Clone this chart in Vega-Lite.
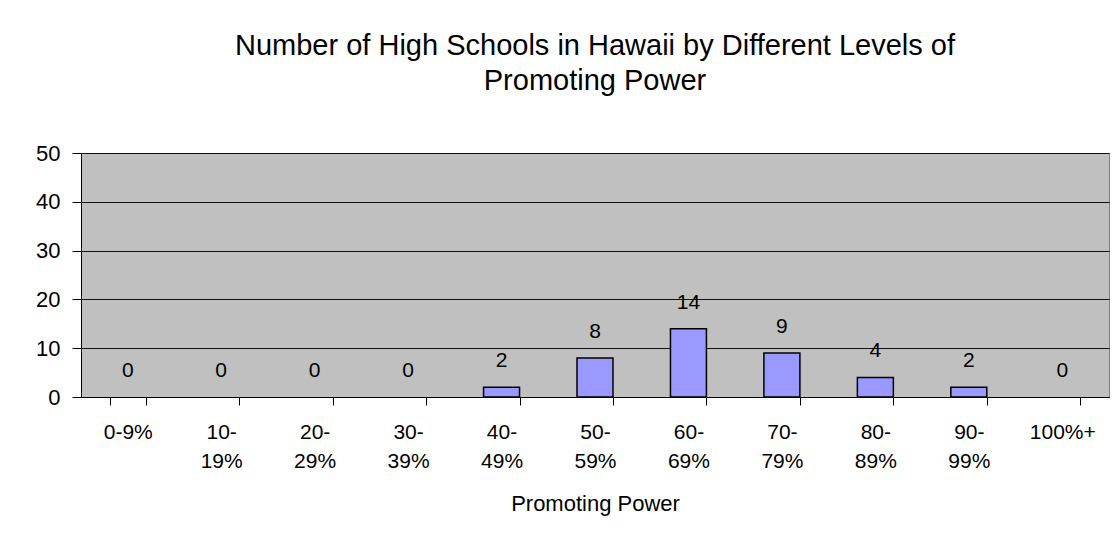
{
  "$schema": "https://vega.github.io/schema/vega-lite/v6.json",
  "autosize": {"type": "none"},
  "padding": {"left": 81, "top": 153, "right": 9, "bottom": 147},
  "width": 1028,
  "height": 244,
  "background": "white",
  "config": {
    "font": "Liberation Sans",
    "view": {"fill": "#C0C0C0", "stroke": "#808080", "strokeWidth": 1},
    "style": {"guide-label": {"lineBreak": "|"}}
  },
  "title": {
    "text": ["Number of High Schools in Hawaii by Different Levels of", "Promoting Power"],
    "fontSize": 29,
    "fontWeight": "normal",
    "color": "black",
    "anchor": "middle",
    "lineHeight": 35,
    "offset": 46
  },
  "data": {
    "values": [
      {"range": "0-9%", "count": 0},
      {"range": "10-19%", "count": 0},
      {"range": "20-29%", "count": 0},
      {"range": "30-39%", "count": 0},
      {"range": "40-49%", "count": 2},
      {"range": "50-59%", "count": 8},
      {"range": "60-69%", "count": 14},
      {"range": "70-79%", "count": 9},
      {"range": "80-89%", "count": 4},
      {"range": "90-99%", "count": 2},
      {"range": "100%+", "count": 0}
    ]
  },
  "encoding": {
    "x": {
      "field": "range",
      "type": "nominal",
      "sort": null,
      "scale": {
        "domain": ["0-9%", "10-19%", "20-29%", "30-39%", "40-49%", "50-59%", "60-69%", "70-79%", "80-89%", "90-99%", "100%+"],
        "paddingInner": 0.615,
        "paddingOuter": 0.3075
      },
      "axis": {
        "title": "Promoting Power",
        "titleFontSize": 22,
        "titleFontWeight": "normal",
        "titleColor": "black",
        "titlePadding": 22,
        "labelAngle": 0,
        "labelFontSize": 21,
        "labelColor": "black",
        "labelPadding": 16,
        "labelLineHeight": 29,
        "labelExpr": "isString(datum.value) ? (datum.value == '0-9%' ? datum.value : replace(datum.value, '-', '-|')) : ''",
        "tickBand": "extent",
        "tickSize": 8,
        "tickColor": "black",
        "domainColor": "black",
        "grid": false
      }
    },
    "y": {
      "field": "count",
      "type": "quantitative",
      "scale": {"domain": [0, 50]},
      "axis": {
        "title": null,
        "values": [0, 10, 20, 30, 40, 50],
        "labelFontSize": 22,
        "labelColor": "black",
        "labelPadding": 12,
        "tickSize": 9,
        "tickColor": "black",
        "domainColor": "black",
        "gridColor": "black",
        "gridOpacity": 0.9
      }
    }
  },
  "layer": [
    {
      "transform": [{"filter": "datum.count > 0"}],
      "mark": {"type": "bar", "fill": "#9999FF", "stroke": "black", "strokeWidth": 1.5}
    },
    {
      "mark": {"type": "text", "fontSize": 21, "color": "black", "baseline": "bottom", "dy": -16},
      "encoding": {"text": {"field": "count", "type": "quantitative"}}
    }
  ]
}
